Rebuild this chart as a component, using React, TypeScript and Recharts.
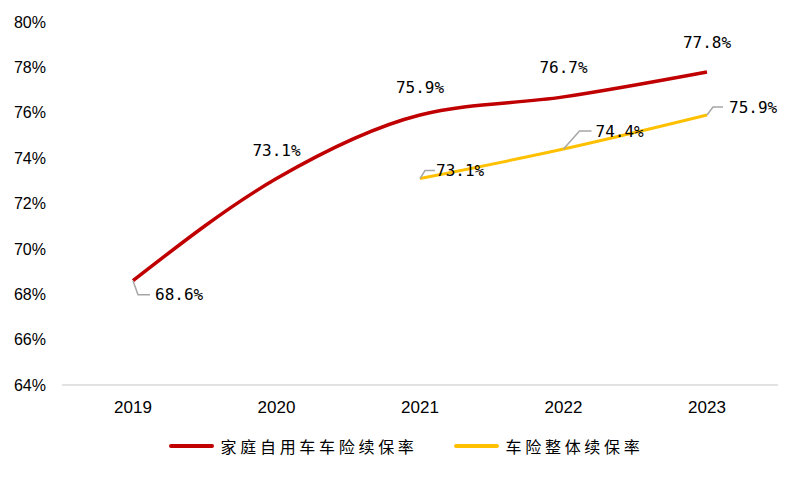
import { LabelList, Line, LineChart, XAxis, YAxis } from 'recharts'

const years = ['2019', '2020', '2021', '2022', '2023']
const familyCarRate = [68.6, 73.1, 75.9, 76.7, 77.8]
const overallRate = [null, null, 73.1, 74.4, 75.9]
const yTicks = [64, 66, 68, 70, 72, 74, 76, 78, 80]

const SERIES = [
  { key: 'family', name: '家庭自用车车险续保率', color: '#C00000', width: 3.5 },
  { key: 'overall', name: '车险整体续保率', color: '#FFC000', width: 3 },
]

// label placement per point: leader = [elbow dx, elbow dy, end dx], text starts after it
const familyLabelPos = [
  { leader: [5, 14, 17] as number[], tx: 22, ty: 14 },
  { dy: -28 },
  { dy: -28 },
  { dy: -29 },
  { dy: -29 },
]
const overallLabelPos = [
  null,
  null,
  { leader: [5, -8, 15] as number[], tx: 16, ty: -8 },
  { leader: [16, -18, 28] as number[], tx: 32, ty: -18 },
  { leader: [6, -8, 16] as number[], tx: 22, ty: -8 },
]

const data = years.map((year, i) => ({
  year,
  family: familyCarRate[i],
  overall: overallRate[i],
}))

const labelFont = '"DejaVu Sans Mono", monospace'
const tickFont = '"Liberation Sans", Arial, sans-serif'

function makeLabel(positions: any[]) {
  return (props: any) => {
    const { x, y, value, index } = props
    const pos = positions[index]
    if (value == null || !pos) return null
    const text = `${Number(value).toFixed(1)}%`
    if (pos.leader) {
      const [ex, ey, endx] = pos.leader
      return (
        <g>
          <polyline
            points={`${x},${y} ${x + ex},${y + ey} ${x + endx},${y + ey}`}
            fill="none"
            stroke="#A6A6A6"
            strokeWidth={1.5}
          />
          <text
            x={x + pos.tx}
            y={y + pos.ty}
            dominantBaseline="central"
            textAnchor="start"
            fontSize={16}
            fontFamily={labelFont}
            fill="#000"
          >
            {text}
          </text>
        </g>
      )
    }
    return (
      <text
        x={x}
        y={y + pos.dy}
        dominantBaseline="central"
        textAnchor="middle"
        fontSize={16}
        fontFamily={labelFont}
        fill="#000"
      >
        {text}
      </text>
    )
  }
}

export default function App() {
  return (
    <div style={{ position: 'absolute', left: 0, top: 0, width: 800, height: 477, background: '#fff' }}>
      <LineChart
        width={800}
        height={477}
        data={data}
        margin={{ top: 22, right: 22, left: 0, bottom: 62 }}
      >
        <XAxis
          dataKey="year"
          padding={{ left: 71, right: 71 }}
          axisLine={{ stroke: '#D9D9D9', strokeWidth: 1.5 }}
          tickLine={false}
          tickSize={0}
          tickMargin={16}
          height={30}
          tick={{ fill: '#000', fontSize: 17, fontFamily: tickFont }}
        />
        <YAxis
          domain={[64, 80]}
          ticks={yTicks}
          width={62}
          axisLine={false}
          tickLine={false}
          tickSize={0}
          tickMargin={16}
          tickFormatter={(v) => `${v}%`}
          tick={{ fill: '#000', fontSize: 16, fontFamily: tickFont }}
        />
        <Line
          type="monotone"
          dataKey="family"
          stroke={SERIES[0].color}
          strokeWidth={SERIES[0].width}
          dot={false}
          activeDot={false}
          isAnimationActive={false}
        >
          <LabelList dataKey="family" content={makeLabel(familyLabelPos)} />
        </Line>
        <Line
          type="monotone"
          dataKey="overall"
          stroke={SERIES[1].color}
          strokeWidth={SERIES[1].width}
          dot={false}
          activeDot={false}
          isAnimationActive={false}
        >
          <LabelList dataKey="overall" content={makeLabel(overallLabelPos)} />
        </Line>
      </LineChart>
      <div
        style={{
          position: 'absolute',
          top: 434,
          left: 6,
          width: 800,
          display: 'flex',
          justifyContent: 'center',
          gap: 36,
          fontFamily: '"Noto Sans CJK SC", sans-serif',
          fontSize: 16,
          letterSpacing: 3.7,
          color: '#000',
        }}
      >
        {SERIES.map((s) => (
          <div key={s.key} style={{ display: 'flex', alignItems: 'center', gap: 7 }}>
            <div style={{ width: 45, height: 4, background: s.color, borderRadius: 2 }} />
            <span>{s.name}</span>
          </div>
        ))}
      </div>
    </div>
  )
}
